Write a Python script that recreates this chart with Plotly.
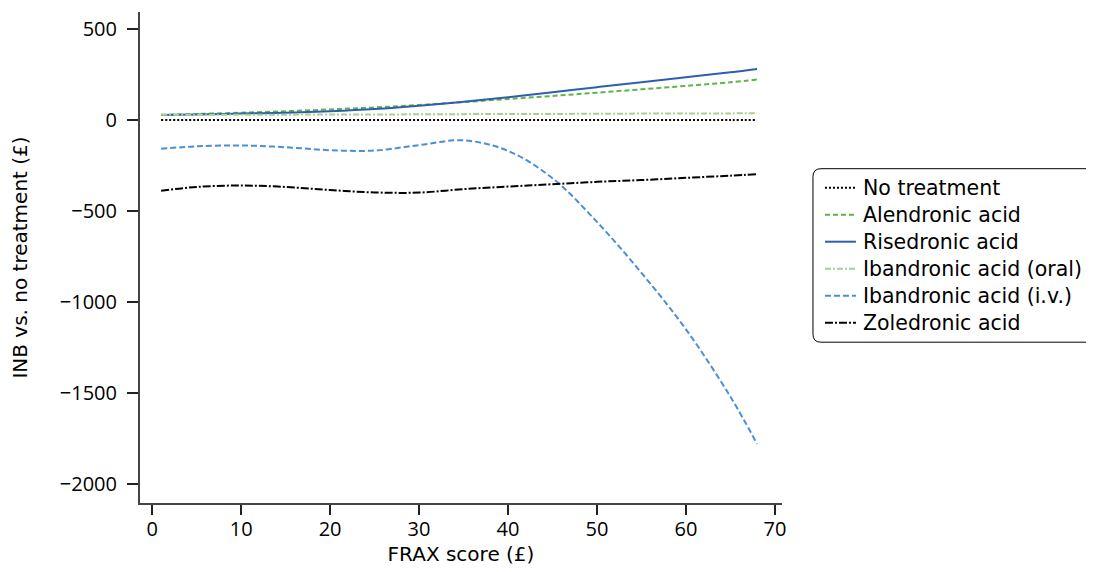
import plotly.graph_objects as go

frax = [1, 5, 10, 15, 20, 25, 30, 35, 40, 45, 50, 55, 60, 65, 68]

no_treatment = [0] * len(frax)
alendronic = [28, 33, 40, 48, 58, 69, 82, 98, 115, 132, 150, 168, 187, 207, 222]
risedronic = [27, 30, 35, 40, 48, 60, 78, 100, 125, 152, 180, 207, 235, 262, 280]
iband_oral = [28, 28, 28, 29, 30, 30, 31, 32, 33, 33, 34, 35, 35, 36, 37]
iband_iv = [-158, -145, -140, -150, -166, -168, -138, -112, -170, -320, -560, -840, -1150, -1520, -1780]
zoledronic = [-389, -368, -360, -368, -385, -398, -399, -380, -366, -353, -340, -330, -318, -306, -298]

names = ["No treatment", "Alendronic acid", "Risedronic acid",
         "Ibandronic acid (oral)", "Ibandronic acid (i.v.)", "Zoledronic acid"]
values = [no_treatment, alendronic, risedronic, iband_oral, iband_iv, zoledronic]
colors = ["#000000", "#5fb446", "#2d5fae", "#a9d18e", "#4a8fd6", "#000000"]
dashes = ["2px,2px", "5px,3px", "solid", "6px,2px,2px,2px", "6px,3px", "8px,2px,2px,2px"]

TICK_FONT = "Open Sans"
TEXT_FONT = "DejaVu Sans"
OFF = 8  # page body margin
W, H = 1094 - OFF, 572 - OFF
# plot area in page pixels
PX0, PX1, PY0, PY1 = 139.5, 782, 12.3, 503.3
L = PX0 - OFF
T = PY0 - OFF
R = W - (PX1 - OFF)
B = H - (PY1 - OFF)
pw = PX1 - PX0
ph = PY1 - PY0


def px2paper_x(px):
    return (px - PX0) / pw


def px2paper_y(py):
    return 1 - (py - PY0) / ph


fig = go.Figure()
for name, vals, color, dash in zip(names, values, colors, dashes):
    fig.add_trace(go.Scatter(
        x=frax, y=vals, name=name, mode="lines", showlegend=False,
        line=dict(color=color, width=2, dash=dash, shape="spline", smoothing=1.0),
    ))

# legend box with rounded left corners (right side runs off the page)
x0, x1 = px2paper_x(813), px2paper_x(1100)
y0, y1 = px2paper_y(342.5), px2paper_y(169)
rx = 8 / pw
ry = 8 / ph
path = (f"M {x0+rx},{y1} L {x1},{y1} L {x1},{y0} L {x0+rx},{y0} "
        f"Q {x0},{y0} {x0},{y0+ry} L {x0},{y1-ry} Q {x0},{y1} {x0+rx},{y1} Z")
shapes = [dict(type="path", xref="paper", yref="paper", path=path,
               line=dict(color="#000000", width=1), fillcolor="rgba(0,0,0,0)")]
annotations = []
ROW0, ROWSTEP = 188, 27
for i, (name, color, dash) in enumerate(zip(names, colors, dashes)):
    yy = px2paper_y(ROW0 + i * ROWSTEP)
    shapes.append(dict(type="line", xref="paper", yref="paper",
                       x0=px2paper_x(825), x1=px2paper_x(856), y0=yy, y1=yy,
                       line=dict(color=color, width=2, dash=dash)))
    annotations.append(dict(xref="paper", yref="paper", x=px2paper_x(862), y=yy,
                            xanchor="left", yanchor="middle", showarrow=False,
                            borderpad=0,
                            text=name, font=dict(family=TEXT_FONT, size=20.5, color="#000000")))

fig.update_layout(
    width=W, height=H,
    margin=dict(l=L, r=R, t=T, b=B, pad=0, autoexpand=False),
    paper_bgcolor="white", plot_bgcolor="white",
    font=dict(family=TICK_FONT, size=20, color="#000000"),
    showlegend=False,
    shapes=shapes,
    annotations=annotations,
    xaxis=dict(
        range=[-1.37, 70.8], tickvals=[0, 10, 20, 30, 40, 50, 60, 70],
        showgrid=False, zeroline=False, showline=True, linecolor="#444444", linewidth=2,
        ticks="outside", ticklen=10, tickwidth=2, tickcolor="#222222",
        ticklabelstandoff=-3,
        title=dict(text="FRAX score (£)", font=dict(family=TEXT_FONT, size=20), standoff=6),
        tickfont=dict(family=TICK_FONT, size=20), automargin=False,
    ),
    yaxis=dict(
        range=[-2104, 593], tickvals=[500, 0, -500, -1000, -1500, -2000],
        showgrid=False, zeroline=False, showline=True, linecolor="#444444", linewidth=2,
        ticks="outside", ticklen=11, tickwidth=2, tickcolor="#222222",
        ticklabelstandoff=6,
        title=dict(text="INB vs. no treatment (£)", font=dict(family=TEXT_FONT, size=20), standoff=50),
        tickfont=dict(family=TICK_FONT, size=20), automargin=False,
    ),
)

fig.write_html("out.html")
